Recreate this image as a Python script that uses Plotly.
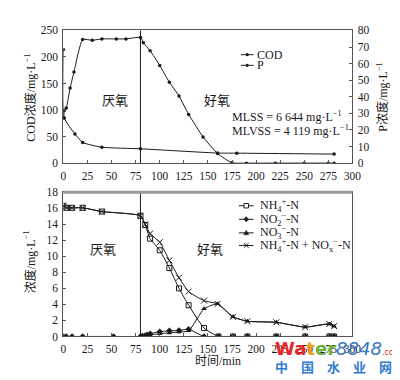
import plotly.graph_objects as go

# ---------------- data ----------------
PHASE_SWITCH = 80  # min, anoxic -> aerobic

cod_t = [0, 1, 12, 20, 40, 80, 160, 180, 281]
cod_v = [214, 85, 55, 39, 30, 27, 19, 18.8, 17]

p_t = [0, 1, 3, 7, 11, 20, 30, 40, 55, 65, 80, 83, 90, 100, 110, 120, 130, 145, 160, 175, 190, 220, 250, 275, 281]
p_v = [27, 31.7, 33.3, 45.3, 55, 74.5, 74.1, 74.9, 74.9, 74.9, 75.8, 72.6, 67.8, 58.9, 48.8, 40.5,
       29.4, 15.8, 5.8, 0.2, 0, 0, 0, 0, 0]

nh4_t = [0, 3, 9, 20, 40, 80, 85, 90, 100, 110, 120, 130, 146, 161, 176, 191, 221, 251, 276, 281]
nh4_v = [16.3, 16.05, 16.05, 16.05, 15.58, 15.06, 13.9, 12.2, 10.75, 8.55, 6.0, 3.9, 1.05, 0, 0, 0, 0, 0, 0, 0]

no2_t = [0, 3, 9, 20, 52, 80, 82, 85, 87, 90, 100, 110, 120, 130, 146, 161, 176, 191, 221, 251, 276, 281]
no2_v = [0, 0, 0, 0, 0, 0, 0.05, 0.12, 0.18, 0.35, 0.6, 0.7, 0.75, 0.9, 0, 0, 0, 0, 0, 0, 0, 0]

no3_t = [0, 3, 9, 20, 52, 80, 82, 85, 87, 90, 100, 110, 120, 130, 146, 160, 176, 191, 221, 251, 276, 281]
no3_v = [0, 0, 0, 0, 0, 0, 0.03, 0.07, 0.1, 0.2, 0.35, 0.45, 0.55, 0.7, 3.45, 4.07, 2.45, 1.9, 1.77, 1.17, 1.57, 1.29]

sum_t = [0, 3, 9, 20, 40, 80, 85, 90, 100, 110, 120, 130, 146, 160, 176, 191, 221, 251, 276, 281]
sum_v = [16.3, 16.05, 16.05, 16.05, 15.58, 15.06, 14.0, 12.84, 11.75, 9.5, 7.33, 5.6, 4.47, 4.07, 2.45, 1.9,
         1.77, 1.17, 1.57, 1.29]

x_ticks = [0, 25, 50, 75, 100, 125, 150, 175, 200, 225, 250, 275, 300]

top_names = ["COD", "P"]
bot_names = ["NH<sub>4</sub><sup>+</sup>-N", "NO<sub>2</sub><sup>−</sup>-N", "NO<sub>3</sub><sup>−</sup>-N",
             "NH<sub>4</sub><sup>+</sup>-N + NO<sub>x</sub><sup>−</sup>-N"]

# ---------------- style ----------------
SERIF = "Liberation Serif, Noto Sans CJK SC, serif"
CJK = "Noto Sans CJK SC, Liberation Serif, serif"
INK = "#1a1a1a"
FRAME = "#555555"
TICKF = dict(family=SERIF, size=11.5, color=INK)
W, H = 400, 380

def px(x):
    return x / W

def py(y):
    return 1 - y / H

fig = go.Figure()
line_kw = dict(color=INK, width=1, shape="spline", smoothing=0.5)

fig.add_trace(go.Scatter(x=cod_t, y=cod_v, name=top_names[0], mode="lines+markers",
                         line=line_kw, marker=dict(symbol="circle", size=3.5, color=INK),
                         xaxis="x", yaxis="y"))
fig.add_trace(go.Scatter(x=p_t, y=p_v, name=top_names[1], mode="lines+markers",
                         line=line_kw, marker=dict(symbol="circle", size=3.5, color=INK),
                         xaxis="x", yaxis="y2"))
fig.add_trace(go.Scatter(x=nh4_t, y=nh4_v, name=bot_names[0], mode="lines+markers",
                         line=line_kw, marker=dict(symbol="square-open", size=5, color=INK, line=dict(width=1)),
                         xaxis="x2", yaxis="y3"))
fig.add_trace(go.Scatter(x=no2_t, y=no2_v, name=bot_names[1], mode="lines+markers",
                         line=line_kw, marker=dict(symbol="diamond", size=5, color=INK),
                         xaxis="x2", yaxis="y3"))
fig.add_trace(go.Scatter(x=no3_t, y=no3_v, name=bot_names[2], mode="lines+markers",
                         line=line_kw, marker=dict(symbol="triangle-up", size=5, color=INK),
                         xaxis="x2", yaxis="y3"))
fig.add_trace(go.Scatter(x=sum_t, y=sum_v, name=bot_names[3], mode="lines+markers",
                         line=line_kw,
                         marker=dict(symbol="x-thin-open", size=6, color=INK, line=dict(width=1, color=INK)),
                         xaxis="x2", yaxis="y3"))

xd = [px(54), px(352)]
top_dom = [py(154), py(17)]
bot_dom = [py(333), py(184)]

ax_common = dict(showline=True, linecolor=FRAME, linewidth=1, ticks="inside", ticklen=3,
                 tickcolor=FRAME, tickfont=TICKF, showgrid=False, zeroline=False, ticklabelstandoff=2)

fig.update_layout(
    width=W, height=H, margin=dict(l=0, r=0, t=0, b=0),
    paper_bgcolor="white", plot_bgcolor="white", showlegend=False,
    xaxis=dict(domain=xd, range=[0, 300], tickvals=x_ticks, anchor="y", mirror=True, **ax_common),
    yaxis=dict(domain=top_dom, range=[0, 250], dtick=50, anchor="x", mirror=True, **ax_common),
    yaxis2=dict(range=[0, 80], dtick=10, overlaying="y", side="right", anchor="x", **ax_common),
    xaxis2=dict(domain=xd, range=[0, 300], tickvals=x_ticks, anchor="y3", mirror=True, **ax_common),
    yaxis3=dict(domain=bot_dom, range=[0, 18], dtick=2, anchor="x2", mirror=True, **ax_common),
)

shapes = []
# phase switch lines
shapes.append(dict(type="line", xref="x", yref="y domain", x0=PHASE_SWITCH, x1=PHASE_SWITCH, y0=0, y1=1,
                   line=dict(color=INK, width=1)))
shapes.append(dict(type="line", xref="x2", yref="y3 domain", x0=PHASE_SWITCH, x1=PHASE_SWITCH, y0=0, y1=1,
                   line=dict(color=INK, width=1)))
# gray top frame of bottom panel
shapes.append(dict(type="line", xref="x2 domain", yref="y3 domain", x0=0, x1=1, y0=1, y1=1,
                   line=dict(color="#999999", width=3)))

ann = []
def a(text, x, y, size=12, family=SERIF, color=INK, xanchor="center", yanchor="middle", **kw):
    d = dict(text=text, x=x, y=y, xref="paper", yref="paper", showarrow=False,
             xanchor=xanchor, yanchor=yanchor, font=dict(family=family, size=size, color=color))
    d.update(kw)
    ann.append(d)

# ---- manual legends (paper coordinates) ----
def legend_sample(x0, x1, y, symbol):
    shapes.append(dict(type="line", xref="paper", yref="paper", x0=px(x0), x1=px(x1), y0=py(y), y1=py(y),
                       line=dict(color=INK, width=1)))
    cx = (x0 + x1) / 2
    if symbol == "dot":
        shapes.append(dict(type="circle", xref="paper", yref="paper", x0=px(cx - 1.6), x1=px(cx + 1.6),
                           y0=py(y + 1.6), y1=py(y - 1.6), fillcolor=INK, line=dict(width=0)))
    elif symbol == "square":
        shapes.append(dict(type="rect", xref="paper", yref="paper", x0=px(cx - 2.3), x1=px(cx + 2.3),
                           y0=py(y + 2.3), y1=py(y - 2.3), fillcolor="white", line=dict(color=INK, width=1)))
    elif symbol == "diamond":
        pts = [(cx, y - 2.8), (cx + 2.3, y), (cx, y + 2.8), (cx - 2.3, y)]
        path = "M " + " L ".join(f"{px(u)},{py(v)}" for u, v in pts) + " Z"
        shapes.append(dict(type="path", xref="paper", yref="paper", path=path, fillcolor=INK,
                           line=dict(color=INK, width=0.5)))
    elif symbol == "triangle":
        pts = [(cx, y - 2.8), (cx + 2.6, y + 2), (cx - 2.6, y + 2)]
        path = "M " + " L ".join(f"{px(u)},{py(v)}" for u, v in pts) + " Z"
        shapes.append(dict(type="path", xref="paper", yref="paper", path=path, fillcolor=INK,
                           line=dict(color=INK, width=0.5)))
    elif symbol == "x":
        for s in (1, -1):
            shapes.append(dict(type="line", xref="paper", yref="paper", x0=px(cx - 2.5), x1=px(cx + 2.5),
                               y0=py(y - 2.5 * s), y1=py(y + 2.5 * s), line=dict(color=INK, width=1)))

top_leg_y = [42, 53]
for name, yy in zip(top_names, top_leg_y):
    legend_sample(237, 250, yy, "dot")
    a(name, px(252), py(yy), xanchor="left")

bot_leg_y = [198, 212, 226, 239]
for name, yy, sym in zip(bot_names, bot_leg_y, ["square", "diamond", "triangle", "x"]):
    legend_sample(235, 250, yy, sym)
    a(name, px(255), py(yy), xanchor="left")

# phase labels
a("厌氧", px(107), py(88), size=13, family=CJK)
a("好氧", px(212), py(88), size=13, family=CJK)
a("厌氧", px(95), py(242), size=13, family=CJK)
a("好氧", px(205), py(242), size=13, family=CJK)
# MLSS
a("MLSS = 6 644 mg·L<sup>−1</sup>", px(226), py(106), xanchor="left")
a("MLVSS = 4 119 mg·L<sup>−1</sup>", px(226), py(120), xanchor="left")
# axis titles
a("COD浓度/mg·L<sup>−1</sup>", px(20), py(86), textangle=-90)
a("P浓度/mg·L<sup>−1</sup>", px(383), py(86), textangle=-90)
a("浓度/mg·L<sup>−1</sup>", px(20), py(256), textangle=-90)
a("时间/min", px(213), py(358))

# watermark
a("<b><span style='color:#e8262b'>Wa</span><span style='color:#f29b1d'>t</span>"
  "<span style='color:#6cb33e'>er</span></b><i><span style='color:#3a78c2'>8848</span></i>"
  "<span style='color:#e8262b;font-size:8px'>.com</span>",
  px(270), py(345), size=18, family="DejaVu Sans, sans-serif", xanchor="left")
a("<b>中　国　水　业　网</b>", px(332), py(364), size=13, family="Noto Sans CJK SC", color="#2f7bd0")

fig.update_layout(annotations=ann, shapes=shapes)
fig.write_html("out.html")
